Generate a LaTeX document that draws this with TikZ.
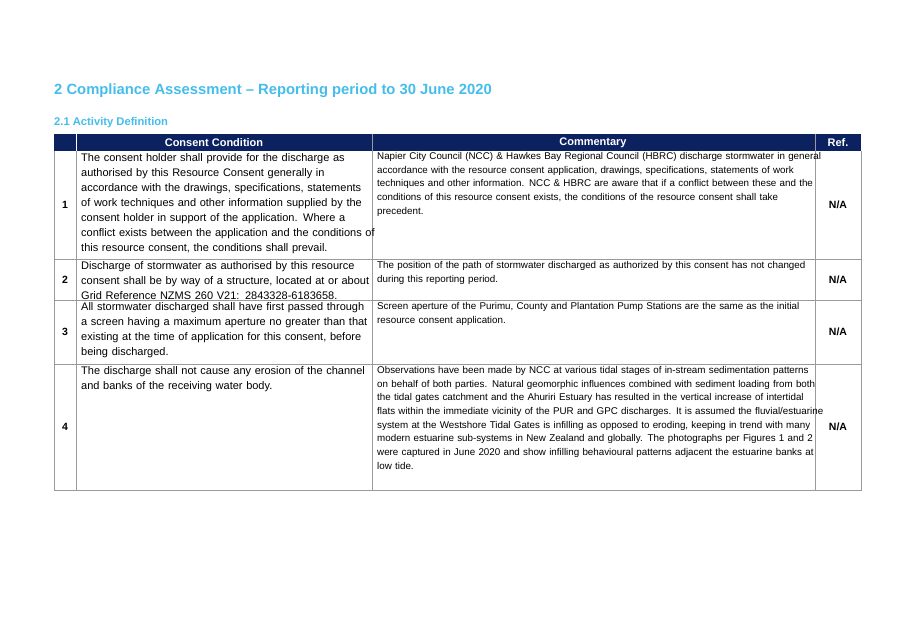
\documentclass[tikz,border=0pt]{standalone}
\usepackage{fontspec}
\setmainfont{Liberation Sans}
\definecolor{navy}{HTML}{0B2160}
\definecolor{skyblue}{HTML}{45BDEB}
\definecolor{rule}{HTML}{9A9A9A}
\newcommand{\jl}[1]{\hbox to \linewidth{#1}\par}
\tikzset{
	cond/.style={anchor=north west, inner sep=0pt, text width=290pt, font=\fontsize{11}{15}\selectfont, align=left},
	comm/.style={anchor=north west, inner sep=0pt, text width=434pt, font=\fontsize{9.8}{13.7}\selectfont, align=left},
	num/.style={font=\fontsize{10.5}{12}\selectfont\bfseries},
	head/.style={font=\fontsize{11}{12}\selectfont\bfseries, text=white}
}
\begin{document}
\begin{tikzpicture}[x=1pt, y=-1pt]
	\useasboundingbox (0,0) rectangle (906,635);
	\node[anchor=west, inner sep=0pt, text=skyblue, font=\fontsize{14.8}{16}\selectfont\bfseries] (title) at (54,91) {2 Compliance Assessment -- Reporting period to 30 June 2020};
	\node[anchor=west, inner sep=0pt, text=skyblue, font=\fontsize{11.2}{12}\selectfont\bfseries] (sub) at (54,123) {2.1 Activity Definition};

	% header
	\fill[navy] (54,134) rectangle (861,151);
	\node[head] (h1) at (214,142.5) {Consent Condition};
	\node[head] (h2) at (593,142.5) {Commentary};
	\node[head] (h3) at (838,142.5) {Ref.};

	% grid
	\draw[rule, line width=0.8pt] (54,151) -- (54,490) -- (861,490) -- (861,151);
	\foreach \y in {259,300,364} {
		\draw[rule, line width=0.8pt] (54,\y) -- (861,\y);
	}
	\foreach \x in {76,372,815} {
		\draw[rule, line width=0.8pt] (\x,134) -- (\x,490);
	}
	\draw[white, line width=0.8pt] (76,134) -- (76,151);

	% numbers and refs
	\foreach \n/\y in {1/205, 2/280, 3/332, 4/427} {
		\node[num] (n-\n) at (65,\y) {\n};
		\node[num] (r-\n) at (838,\y) {N/A};
	}

	% consent conditions
	\node[cond] (c-1) at (81,153) {\jl{The consent holder shall provide for the discharge as}\jl{authorised by this Resource Consent generally in}\jl{accordance with the drawings, specifications, statements}\jl{of work techniques and other information supplied by the}\jl{consent holder in support of the application. Where a}\jl{conflict exists between the application and the conditions of}this resource consent, the conditions shall prevail.};
	\node[cond] (c-2) at (81,261) {\jl{Discharge of stormwater as authorised by this resource}\jl{consent shall be by way of a structure, located at or about}Grid Reference NZMS 260 V21: 2843328-6183658.};
	\node[cond] (c-3) at (81,302) {\jl{All stormwater discharged shall have first passed through}\jl{a screen having a maximum aperture no greater than that}\jl{existing at the time of application for this consent, before}being discharged.};
	\node[cond] (c-4) at (81,366) {\jl{The discharge shall not cause any erosion of the channel}and banks of the receiving water body.};

	% commentary
	\node[comm] (m-1) at (377,152) {\jl{Napier City Council (NCC) \& Hawkes Bay Regional Council (HBRC) discharge stormwater in general}\jl{accordance with the resource consent application, drawings, specifications, statements of work}\jl{techniques and other information. NCC \& HBRC are aware that if a conflict between these and the}\jl{conditions of this resource consent exists, the conditions of the resource consent shall take}precedent.};
	\node[comm] (m-2) at (377,261) {\jl{The position of the path of stormwater discharged as authorized by this consent has not changed}during this reporting period.};
	\node[comm] (m-3) at (377,302) {\jl{Screen aperture of the Purimu, County and Plantation Pump Stations are the same as the initial}resource consent application.};
	\node[comm] (m-4) at (377,366) {\jl{Observations have been made by NCC at various tidal stages of in-stream sedimentation patterns}\jl{on behalf of both parties. Natural geomorphic influences combined with sediment loading from both}\jl{the tidal gates catchment and the Ahuriri Estuary has resulted in the vertical increase of intertidal}\jl{flats within the immediate vicinity of the PUR and GPC discharges. It is assumed the fluvial/estuarine}\jl{system at the Westshore Tidal Gates is infilling as opposed to eroding, keeping in trend with many}\jl{modern estuarine sub-systems in New Zealand and globally. The photographs per Figures 1 and 2}\jl{were captured in June 2020 and show infilling behavioural patterns adjacent the estuarine banks at}low tide.};
\end{tikzpicture}
\end{document}
